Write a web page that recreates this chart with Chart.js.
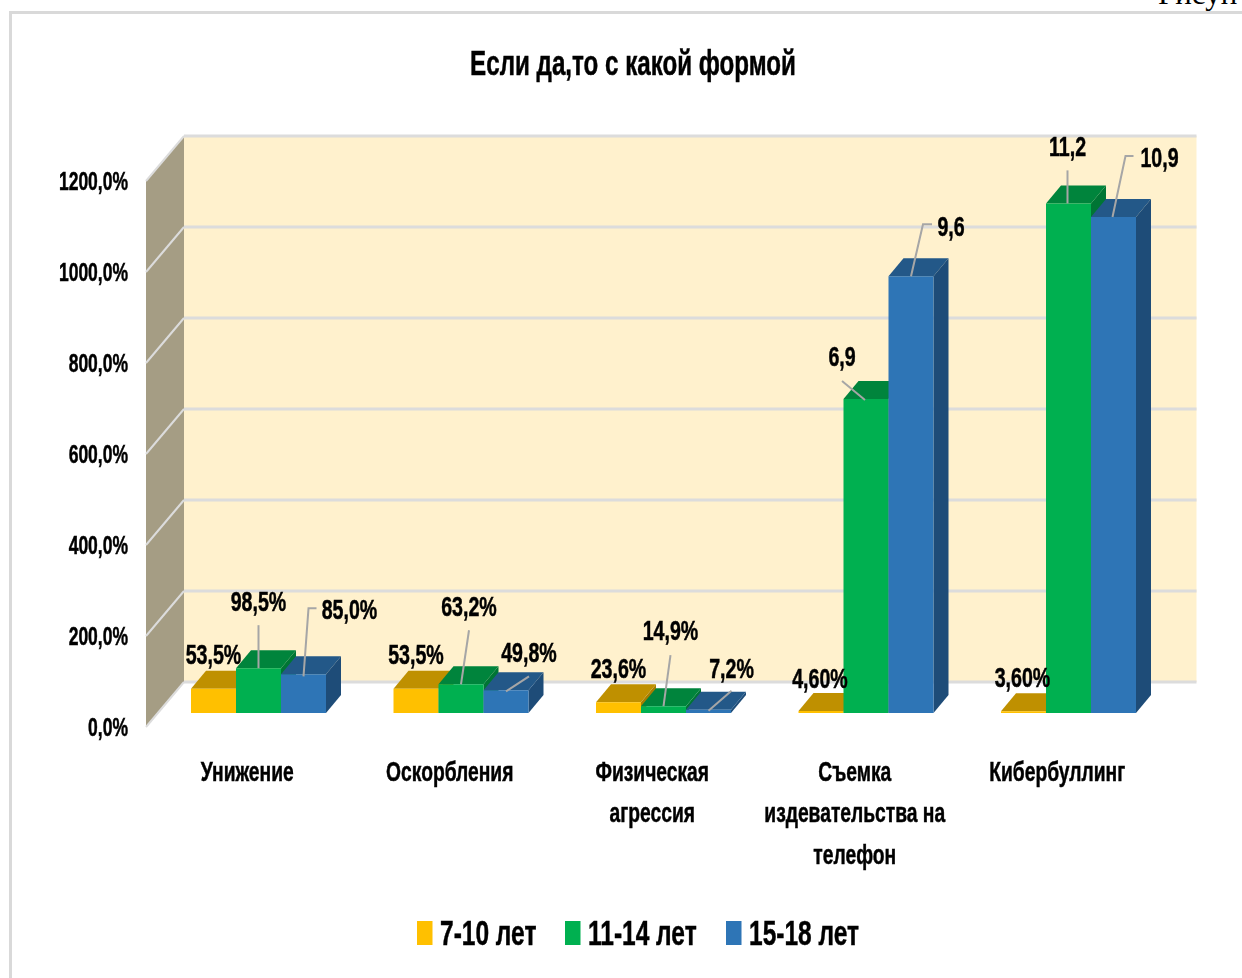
<!DOCTYPE html>
<html>
<head>
<meta charset="utf-8">
<script src="https://cdn.jsdelivr.net/npm/chart.js@4"></script>
<style>
html, body { margin: 0; padding: 0; background: #fff; width: 1242px; height: 978px; overflow: hidden; }
#frame { position: absolute; left: 9px; top: 11px; right: 0; bottom: 0; border-left: 3px solid #d9d9d9; border-top: 3px solid #d9d9d9; }
#pageText { position: absolute; left: 1158px; top: -24px; font: 31px "Liberation Serif", serif; color: #000; white-space: nowrap; }
canvas { position: absolute; left: 0; top: 0; }
</style>
</head>
<body>
<div id="frame"></div>
<div id="pageText">Рисун</div>
<canvas id="chart" width="1242" height="978"></canvas>
<script>
let CATEGORIES = ['Унижение', 'Оскорбления', ['Физическая', 'агрессия'], ['Съемка', 'издевательства на', 'телефон'], 'Кибербуллинг'];
let SERIES_NAMES = ['7-10 лет', '11-14 лет', '15-18 лет'];

let VALUES_7_10 = [53.5, 53.5, 23.6, 4.6, 3.6];
let VALUES_11_14 = [98.5, 63.2, 14.9, 690, 1120];
let VALUES_15_18 = [85, 49.8, 7.2, 960, 1090];

let LABELS_7_10 = ['53,5%', '53,5%', '23,6%', '4,60%', '3,60%'];
let LABELS_11_14 = ['98,5%', '63,2%', '14,9%', '6,9', '11,2'];
let LABELS_15_18 = ['85,0%', '49,8%', '7,2%', '9,6', '10,9'];

let TICK_LABELS = ['0,0%', '200,0%', '400,0%', '600,0%', '800,0%', '1000,0%', '1200,0%'];

let FRONT_COLORS = ['#FFC000', '#00B050', '#2E75B6'];
let TOP_COLORS = ['#BF9000', '#00843C', '#235888'];
let SIDE_COLORS = ['#A67D00', '#007534', '#1E4C78'];

// label centre and leader line, relative to the top of the bar
let LABEL_POS = [
	[
		{ at: [0, -33] },
		{ at: [0, -33] },
		{ at: [0, -33] },
		{ at: [-1, -32] },
		{ at: [-1, -33] },
	],
	[
		{ at: [0, -66], line: [[0, -43], [0, 0]] },
		{ at: [8, -77], line: [[8, -54], [0, 0]] },
		{ at: [7, -75], line: [[7, -51], [0, 0]] },
		{ at: [-24, -42], line: [[-24, -18], [-1, 1]] },
		{ at: [-1, -56], line: [[-1, -33], [-1, 0]] },
	],
	[
		{ at: [46, -64], line: [[13, -66], [5, -66], [0, 2]] },
		{ at: [23, -37], line: [[23, -14], [0, 1]] },
		{ at: [23, -40], line: [[23, -19], [0, 1]] },
		{ at: [40, -49], line: [[21, -52], [12, -52], [0, 0]] },
		{ at: [46, -59], line: [[20, -61], [12, -61], [-1, 0]] },
	],
];

let ALL_LABELS = [LABELS_7_10, LABELS_11_14, LABELS_15_18];
let FONT = '"Liberation Sans", sans-serif';
let TEXT_SQUEEZE = 0.7;
let TEXT_NUDGE = 2;
let WALL = { dx: 38, dy: -45 };
let BAR_PLANE = { dx: 11.25, dy: -14 };
let BAR_DEPTH = { dx: 15, dy: -18 };
let GRID_COLOR = '#dcdcdc';

function poly(ctx, pts, fill) {
	ctx.beginPath();
	ctx.moveTo(pts[0][0], pts[0][1]);
	for (let p = 1; p < pts.length; p++) ctx.lineTo(pts[p][0], pts[p][1]);
	ctx.closePath();
	ctx.fillStyle = fill;
	ctx.fill();
}

function line(ctx, pts, color, width) {
	ctx.beginPath();
	ctx.moveTo(pts[0][0], pts[0][1]);
	for (let p = 1; p < pts.length; p++) ctx.lineTo(pts[p][0], pts[p][1]);
	ctx.strokeStyle = color;
	ctx.lineWidth = width;
	ctx.stroke();
}

let box3d = {
	id: 'box3d',
	afterLayout(chart) {
		// title is centred over the floor and wall, not over the whole canvas
		chart.titleBlock.left = 107.5;
	},
	beforeDatasetsDraw(chart) {
		let ctx = chart.ctx;
		let area = chart.chartArea;
		let yScale = chart.scales.y;
		let backLeft = area.left + WALL.dx;
		let backRight = area.right + WALL.dx;

		// back wall and left wall
		poly(ctx, [[backLeft, area.top + WALL.dy], [backRight, area.top + WALL.dy], [backRight, area.bottom + WALL.dy], [backLeft, area.bottom + WALL.dy]], '#FFF1CD');
		poly(ctx, [[area.left, area.top], [backLeft, area.top + WALL.dy], [backLeft, area.bottom + WALL.dy], [area.left, area.bottom]], '#A59D84');

		yScale.ticks.forEach((t) => {
			let y = yScale.getPixelForValue(t.value);
			line(ctx, [[backLeft, y + WALL.dy], [backRight, y + WALL.dy]], GRID_COLOR, 3);
			line(ctx, [[area.left, y], [backLeft, y + WALL.dy]], GRID_COLOR, 2);
		});

		// bars stand further back than the front edge of the floor
		ctx.save();
		ctx.translate(BAR_PLANE.dx, BAR_PLANE.dy);
		for (let d = 0; d < chart.data.datasets.length; d++) {
			let meta = chart.getDatasetMeta(d);
			meta.data.forEach((bar) => {
				let l = bar.x - bar.width / 2;
				let r = bar.x + bar.width / 2;
				poly(ctx, [[r, bar.y], [r + BAR_DEPTH.dx, bar.y + BAR_DEPTH.dy], [r + BAR_DEPTH.dx, bar.base + BAR_DEPTH.dy], [r, bar.base]], SIDE_COLORS[d]);
				poly(ctx, [[l, bar.y], [l + BAR_DEPTH.dx, bar.y + BAR_DEPTH.dy], [r + BAR_DEPTH.dx, bar.y + BAR_DEPTH.dy], [r, bar.y]], TOP_COLORS[d]);
			});
			meta.controller.draw();
		}
		ctx.restore();
		return false;
	},
	afterDraw(chart) {
		let ctx = chart.ctx;
		ctx.save();

		// value labels with leader lines
		ctx.textAlign = 'center';
		ctx.textBaseline = 'middle';
		ctx.font = 'bold 28px ' + FONT;
		for (let d = 0; d < chart.data.datasets.length; d++) {
			let meta = chart.getDatasetMeta(d);
			meta.data.forEach((bar, i) => {
				let x = bar.x + BAR_PLANE.dx;
				let y = bar.y + BAR_PLANE.dy;
				let pos = LABEL_POS[d][i];
				if (pos.line) line(ctx, pos.line.map((p) => [x + p[0], y + p[1]]), '#a6a6a6', 2);
				ctx.fillStyle = '#000';
				ctx.strokeStyle = '#000';
				ctx.fillText(ALL_LABELS[d][i], x + pos.at[0], y + pos.at[1] - 1);
			});
		}

		// legend
		ctx.textAlign = 'left';
		ctx.font = 'bold 35px ' + FONT;
		let legendX = [417, 565, 726];
		chart.data.datasets.forEach((ds, d) => {
			ctx.fillStyle = ds.backgroundColor;
			ctx.fillRect(legendX[d], 921, 15.5, 24);
			ctx.fillStyle = '#000';
			ctx.strokeStyle = '#000';
			ctx.fillText(ds.label, legendX[d] + 23, 933);
		});
		ctx.restore();
	},
};

let canvas = document.getElementById('chart');
let chartCtx = canvas.getContext('2d');

// the text in the picture is stretched tall, so squeeze it sideways
let nativeFillText = chartCtx.fillText.bind(chartCtx);
let nativeStrokeText = chartCtx.strokeText.bind(chartCtx);
chartCtx.fillText = (text, x, y) => {
	let w = chartCtx.measureText(text).width * TEXT_SQUEEZE;
	nativeFillText(text, x, y + TEXT_NUDGE, w);
	chartCtx.save();
	chartCtx.strokeStyle = '#000';
	chartCtx.lineWidth = 0.5;
	nativeStrokeText(text, x, y + TEXT_NUDGE, w);
	chartCtx.restore();
};

new Chart(chartCtx, {
	type: 'bar',
	plugins: [box3d],
	data: {
		labels: CATEGORIES,
		datasets: [
			{ label: SERIES_NAMES[0], data: VALUES_7_10, backgroundColor: FRONT_COLORS[0] },
			{ label: SERIES_NAMES[1], data: VALUES_11_14, backgroundColor: FRONT_COLORS[1] },
			{ label: SERIES_NAMES[2], data: VALUES_15_18, backgroundColor: FRONT_COLORS[2] },
		],
	},
	options: {
		responsive: false,
		animation: false,
		layout: { padding: { left: 20, right: 83.5, top: 0, bottom: 0 } },
		barPercentage: 1,
		categoryPercentage: 0.6667,
		plugins: {
			legend: { display: false },
			tooltip: { enabled: false },
			title: {
				display: true,
				text: 'Если да,то с какой формой',
				color: '#000',
				font: { family: FONT, size: 34.5, weight: 'bold', lineHeight: 1.2 },
				padding: { top: 43, bottom: 96.6 },
			},
		},
		scales: {
			x: {
				grid: { display: false, drawTicks: false },
				border: { display: false },
				afterFit(scale) {
					scale.height = 251;
				},
				ticks: {
					color: '#000',
					padding: 24,
					autoSkip: false,
					maxRotation: 0,
					font: { family: FONT, size: 27.5, weight: 'bold', lineHeight: 1.5 },
				},
			},
			y: {
				min: 0,
				max: 1200,
				grid: { display: false, drawTicks: false },
				border: { display: false },
				afterFit(scale) {
					scale.width = 126;
				},
				ticks: {
					stepSize: 200,
					color: '#000',
					padding: 18,
					font: { family: FONT, size: 25, weight: 'bold' },
					callback: (value) => TICK_LABELS[value / 200],
				},
			},
		},
	},
});
</script>
</body>
</html>
